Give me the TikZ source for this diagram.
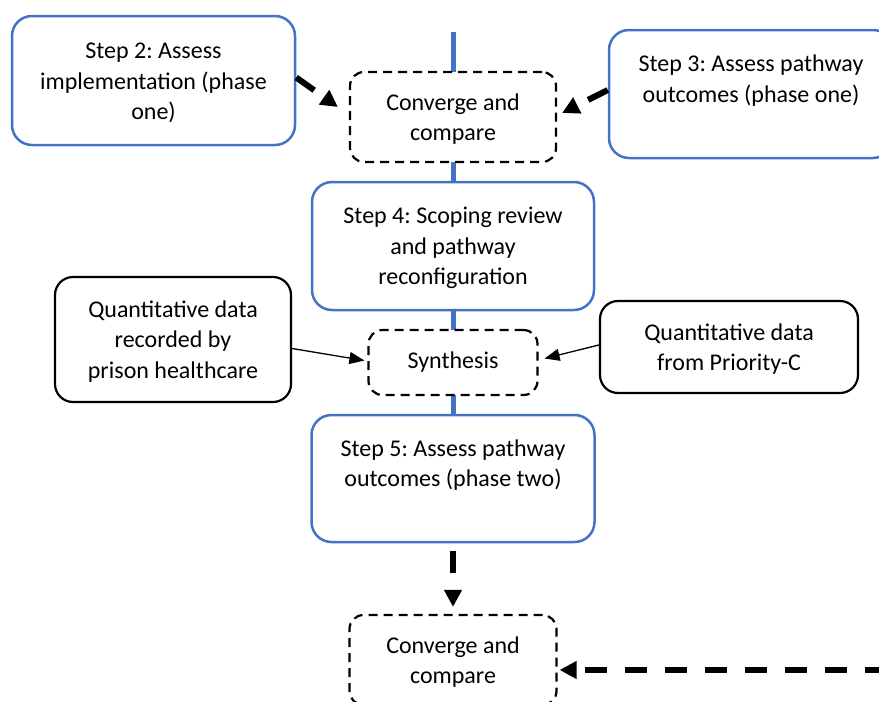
\documentclass[tikz,border=0pt]{standalone}
\usepackage{fontspec}
\setmainfont{Carlito}
\usetikzlibrary{arrows.meta,backgrounds}
\definecolor{stepblue}{HTML}{4472C4}
\frenchspacing

\begin{document}
\begin{tikzpicture}[x=1pt,y=-1pt,
      font=\fontsize{24}{30.5}\selectfont,
      stepbox/.style={draw=stepblue, line width=2.5pt, fill=white, rounded corners=20pt, inner sep=0pt},
      steptext/.style={anchor=base, align=center},
      databox/.style={draw=black, line width=2.2pt, fill=white, rounded corners=18pt, align=center, inner sep=0pt, text depth=-1.5pt},
      mergebox/.style={draw=black, line width=2.2pt, dash pattern=on 9pt off 6pt, fill=white, rounded corners=14pt, align=center, inner sep=0pt, text depth=-1pt},
      bigarrow/.style={line width=6pt, dash pattern=on 22pt off 18pt, -{Triangle[length=17pt,width=17pt]}},
      thinarrow/.style={line width=1.3pt, -{Triangle[length=15pt,width=12pt]}}]
      \useasboundingbox (0,0) rectangle (879,702);
      \coordinate (spinetop) at (453,32);
      \coordinate (rightin) at (887,670);

      \node[stepbox, minimum width=283, minimum height=129] (step2) at (153.5,80.5) {};
      \node[steptext] (step2txt) at ([yshift=-105pt]step2.north) {Step 2: Assess\\implementation (phase\\one)};
      \node[stepbox, minimum width=284, minimum height=128] (step3) at (751,94) {};
      \node[steptext] (step3txt) at ([yshift=-73.5pt]step3.north) {Step 3: Assess pathway\\outcomes (phase one)};
      \node[mergebox, minimum width=206, minimum height=90] (cmp1) at (453,117) {Converge and\\compare};
      \node[stepbox, minimum width=282, minimum height=128] (step4) at (453,246) {};
      \node[steptext] (step4txt) at ([yshift=-104pt]step4.north) {Step 4: Scoping review\\and pathway\\reconfiguration};

      \node[databox, minimum width=236, minimum height=125] (qrec) at (173,339.5) {Quantitative data\\recorded by\\prison healthcare};
      \node[mergebox, minimum width=169, minimum height=65, text depth=5pt] (synth) at (453,362.5) {Synthesis};
      \node[databox, minimum width=258, minimum height=92] (qpc) at (729,347) {Quantitative data\\from Priority-C};

      \node[stepbox, minimum width=283, minimum height=127] (step5) at (453,478.5) {};
      \node[steptext] (step5txt) at ([yshift=-73pt]step5.north) {Step 5: Assess pathway\\outcomes (phase two)};
      \node[mergebox, minimum width=207, minimum height=90, text depth=-3pt] (cmp2) at (453,660) {Converge and\\compare};

      \begin{scope}[on background layer]
            \draw[stepblue, line width=5pt] (spinetop) -- (step5.north);
      \end{scope}

      \draw[bigarrow] ([yshift=3pt]step2.east) -- ([xshift=-11pt,yshift=10pt]cmp1.west);
      \draw[bigarrow] ([yshift=4pt]step3.west) -- ([xshift=5pt,yshift=4pt]cmp1.east);
      \draw[thinarrow] ([yshift=-9pt]qrec.east) -- ([xshift=-3pt,yshift=2pt]synth.west);
      \draw[thinarrow] ([yshift=2pt]qpc.west) -- ([xshift=6pt,yshift=4pt]synth.east);
      \draw[bigarrow] ([yshift=-8pt]step5.south) -- ([yshift=7pt]cmp2.north);
      \draw[bigarrow] (rightin) -- ([xshift=2pt,yshift=-10pt]cmp2.east);
\end{tikzpicture}
\end{document}
